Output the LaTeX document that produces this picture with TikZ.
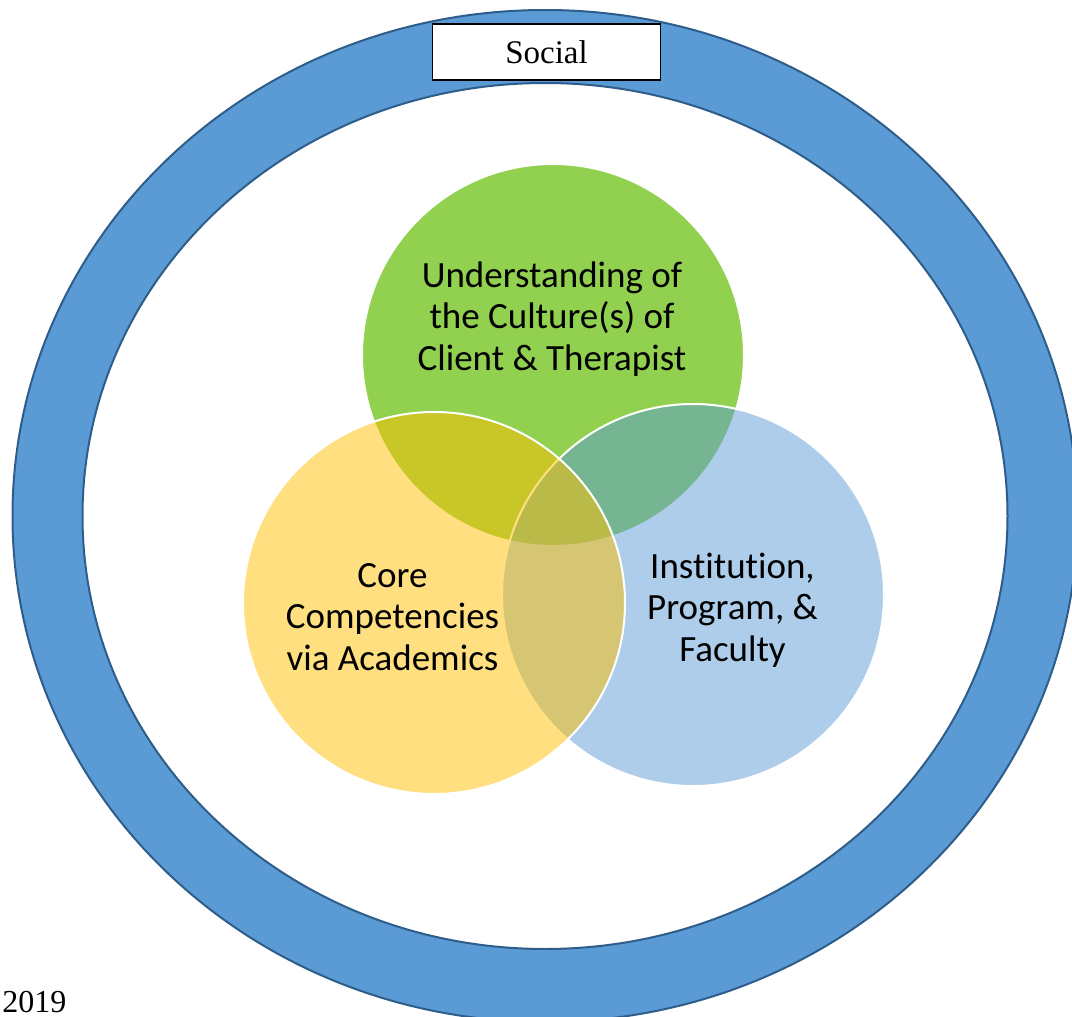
\documentclass[tikz,border=0pt]{standalone}
\usepackage{fontspec}
\setmainfont{Liberation Serif}
\newfontfamily\calibri[Ligatures={NoCommon}]{Carlito}
\usepackage{tikz}
\usetikzlibrary{shapes.geometric}
\definecolor{ringblue}{HTML}{5B9BD5}
\definecolor{ringline}{HTML}{2E5D8A}
\definecolor{cultgreen}{HTML}{92D050}
\definecolor{coregold}{HTML}{FFC000}
\definecolor{instblue}{HTML}{5B9BD5}
\tikzstyle{venn} = [circle, minimum size=191pt, inner sep=0pt, draw=white, line width=1pt]
\tikzstyle{venntext} = [align=center, inner sep=0pt, font=\calibri\fontsize{18.5}{20.7}\selectfont]
\tikzstyle{tag} = [draw=black, fill=white, line width=0.6pt, minimum width=114pt, minimum height=28pt, inner sep=0pt, font=\fontsize{16.5}{19}\selectfont]
\tikzstyle{ringedge} = [line width=1pt, draw=ringline]

\begin{document}
\begin{tikzpicture}[x=0.5pt, y=-0.5pt]
\useasboundingbox (0,0) rectangle (1072,1017);
\clip (0,0) rectangle (1072,1017);

% outer ring
\coordinate (centre) at (545,516);
\fill[ringblue, even odd rule] (centre) ellipse [x radius=266.25pt, y radius=253pt]
  (centre) ellipse [x radius=231.25pt, y radius=216.5pt];
\draw[ringedge] (centre) ellipse [x radius=266.25pt, y radius=253pt];
\draw[ringedge] (centre) ellipse [x radius=231.25pt, y radius=216.5pt];

\node (social) [tag] at (546.5,52) {Social};

% the three circles
\node (culture) [venn, fill=cultgreen] at (553,355) {};
\node (inst) [venn, fill=instblue, fill opacity=0.5] at (693,595) {};
\node (core) [venn, fill=coregold, fill opacity=0.5] at (434,603) {};

\node (culturetxt) [venntext] at (552,319) {Understanding of\\the Culture(s) of\\Client \& Therapist};
\node (coretxt) [venntext] at (392.5,617) {Core\\Competencies\\via Academics};
\node (insttxt) [venntext] at (732.5,610) {Institution,\\Program, \&\\Faculty};

\node (year) [anchor=base west, inner sep=0pt, font=\fontsize{16}{19}\selectfont] at (2,1012) {2019};

\end{tikzpicture}
\end{document}
